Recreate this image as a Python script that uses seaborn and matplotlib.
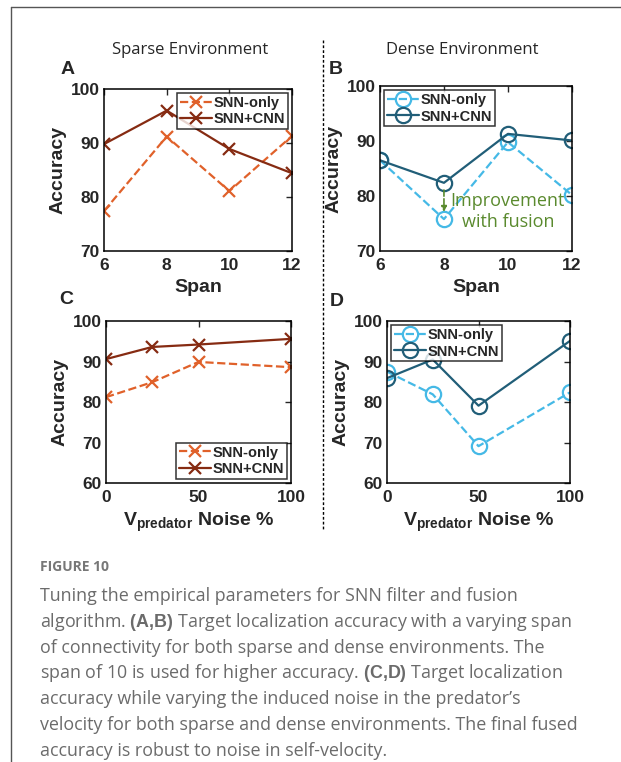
import pandas as pd
import seaborn as sns
from matplotlib import pyplot as plt
from matplotlib.lines import Line2D

# data
span = [6, 8, 10, 12]
noise = [0, 25, 50, 100]

sparse_span_snn = [77.4, 91.2, 81.1, 91.3]
sparse_span_fused = [89.8, 96.0, 88.9, 84.4]
dense_span_snn = [86.5, 75.8, 89.8, 80.2]
dense_span_fused = [86.5, 82.4, 91.3, 90.1]

sparse_noise_snn = [81.2, 84.9, 89.9, 88.6]
sparse_noise_fused = [90.6, 93.6, 94.2, 95.6]
dense_noise_snn = [87.5, 81.9, 69.1, 82.4]
dense_noise_fused = [85.9, 90.5, 79.1, 95.1]

legend_names = ["SNN-only", "SNN+CNN"]

caption_lines = [
    "Tuning the empirical parameters for SNN filter and fusion",
    "algorithm. $\\bf{(A{,}B)}$ Target localization accuracy with a varying span",
    "of connectivity for both sparse and dense environments. The",
    "span of 10 is used for higher accuracy. $\\bf{(C{,}D)}$ Target localization",
    "accuracy while varying the induced noise in the predator\u2019s",
    "velocity for both sparse and dense environments. The final fused",
    "accuracy is robust to noise in self-velocity.",
]

sns.set_style("white")
plt.rcParams["font.family"] = ["Liberation Sans", "DejaVu Sans"]
plt.rcParams["mathtext.fontset"] = "custom"
plt.rcParams["mathtext.rm"] = "Liberation Sans:bold"
plt.rcParams["mathtext.it"] = "Liberation Sans:bold"
plt.rcParams["mathtext.bf"] = "Liberation Sans:bold"

ORANGE = "#E0612A"
BROWN = "#862B12"
LBLUE = "#45B9E6"
TEAL = "#215E78"
GREEN = "#5A8A2E"

fig = plt.figure(figsize=(6.21, 7.62), dpi=100)

axA = fig.add_axes([0.1675, 0.6706, 0.3027, 0.2126])
axB = fig.add_axes([0.6119, 0.6706, 0.3090, 0.2165])
axC = fig.add_axes([0.1707, 0.3661, 0.2979, 0.2126])
axD = fig.add_axes([0.6232, 0.3661, 0.2947, 0.2126])


def draw(ax, x, snn, fused, c1, c2, marker, ms):
    kw = dict(marker=marker, markersize=ms, markeredgewidth=1.6, linewidth=1.6)
    if marker == "o":
        kw["markerfacecolor"] = "none"
    sns.lineplot(x=x, y=snn, ax=ax, color=c1, linestyle="--", markeredgecolor=c1, **kw)
    sns.lineplot(x=x, y=fused, ax=ax, color=c2, markeredgecolor=c2, **kw)
    handles = [
        Line2D([], [], color=c1, linestyle="--", markeredgecolor=c1, **kw),
        Line2D([], [], color=c2, markeredgecolor=c2, **kw),
    ]
    return handles


def style(ax, xticks, yticks, xlabel):
    ax.set_xticks(xticks)
    ax.set_yticks(yticks)
    ax.set_xlim(xticks[0], xticks[-1])
    ax.set_ylim(yticks[0], yticks[-1])
    ax.tick_params(direction="in", top=True, right=True, length=4, width=1,
                   labelsize=12.5)
    ax.tick_params(axis="x", pad=5)
    ax.tick_params(axis="y", pad=3)
    for lab in ax.get_xticklabels() + ax.get_yticklabels():
        lab.set_fontweight("bold")
    ax.set_xlabel(xlabel, fontsize=14, fontweight="bold", labelpad=4)
    ax.set_ylabel("Accuracy", fontsize=14, fontweight="bold", labelpad=3)
    for s in ax.spines.values():
        s.set_linewidth(1.1)
        s.set_color("black")


leg_kw = dict(prop={"weight": "bold", "size": 10.5}, frameon=True, fancybox=False,
              edgecolor="black", handlelength=2.2, handletextpad=0.1,
              borderpad=0.2, labelspacing=0.15, borderaxespad=0.3)

h = draw(axA, span, sparse_span_snn, sparse_span_fused, ORANGE, BROWN, "x", 8)
style(axA, span, [70, 80, 90, 100], "Span")
axA.legend(h, legend_names, loc="upper right", **leg_kw).get_frame().set_linewidth(1.1)

h = draw(axB, span, dense_span_snn, dense_span_fused, LBLUE, TEAL, "o", 11)
style(axB, span, [70, 80, 90, 100], "Span")
axB.legend(h, legend_names, loc="upper left", **leg_kw).get_frame().set_linewidth(1.1)
axB.annotate("", xy=(8, 76.6), xytext=(8, 81.6),
             arrowprops=dict(arrowstyle="-|>", color=GREEN, linestyle="--",
                             lw=1.2, mutation_scale=8))
axB.text(10.0, 77.2, "Improvement\nwith fusion", color=GREEN, fontsize=13,
         ha="center", va="center", linespacing=1.25,
         family=["Open Sans", "DejaVu Sans"])

h = draw(axC, noise, sparse_noise_snn, sparse_noise_fused, ORANGE, BROWN, "x", 8)
style(axC, [0, 50, 100], [60, 70, 80, 90, 100], "V$_{predator}$ Noise %")
axC.legend(h, legend_names, loc="lower right", **leg_kw).get_frame().set_linewidth(1.1)

h = draw(axD, noise, dense_noise_snn, dense_noise_fused, LBLUE, TEAL, "o", 11)
style(axD, [0, 50, 100], [60, 70, 80, 90, 100], "V$_{predator}$ Noise %")
axD.legend(h, legend_names, loc="upper left", **leg_kw).get_frame().set_linewidth(1.1)

# titles and panel letters
title_font = ["Open Sans", "DejaVu Sans"]
fig.text(190 / 621, 1 - 50 / 762, "Sparse Environment", ha="center", va="center",
         fontsize=12, family=title_font)
fig.text(462 / 621, 1 - 50 / 762, "Dense Environment", ha="center", va="center",
         fontsize=12, family=title_font)
for letter, px, py in [("A", 68, 70), ("B", 336, 70), ("C", 66, 300), ("D", 337, 302)]:
    fig.text(px / 621, 1 - py / 762, letter, ha="center", va="center",
             fontsize=14, fontweight="bold")

# dashed separator and outer frame
fig.add_artist(Line2D([323 / 621, 323 / 621], [1 - 40 / 762, 1 - 530 / 762],
                      color="black", linestyle=(0, (2, 1.5)), linewidth=1))
fig.add_artist(Line2D([11 / 621, 11 / 621], [0, 1 - 7 / 762], color="#555555", linewidth=1))
fig.add_artist(Line2D([11 / 621, 1], [1 - 7 / 762, 1 - 7 / 762], color="#555555", linewidth=1))

# caption
cap_font = ["Open Sans", "DejaVu Sans"]
fig.text(40 / 621, 1 - 567 / 762, "FIGURE 10", fontsize=10, color="#777777",
         fontweight="bold", va="center", family=cap_font)
for i, line in enumerate(caption_lines):
    fig.text(40 / 621, 1 - (596 + i * 25.8) / 762, line, fontsize=12.85,
             color="#6b6b6b", va="center", family=cap_font)

fig.savefig("out.png", dpi=100)
